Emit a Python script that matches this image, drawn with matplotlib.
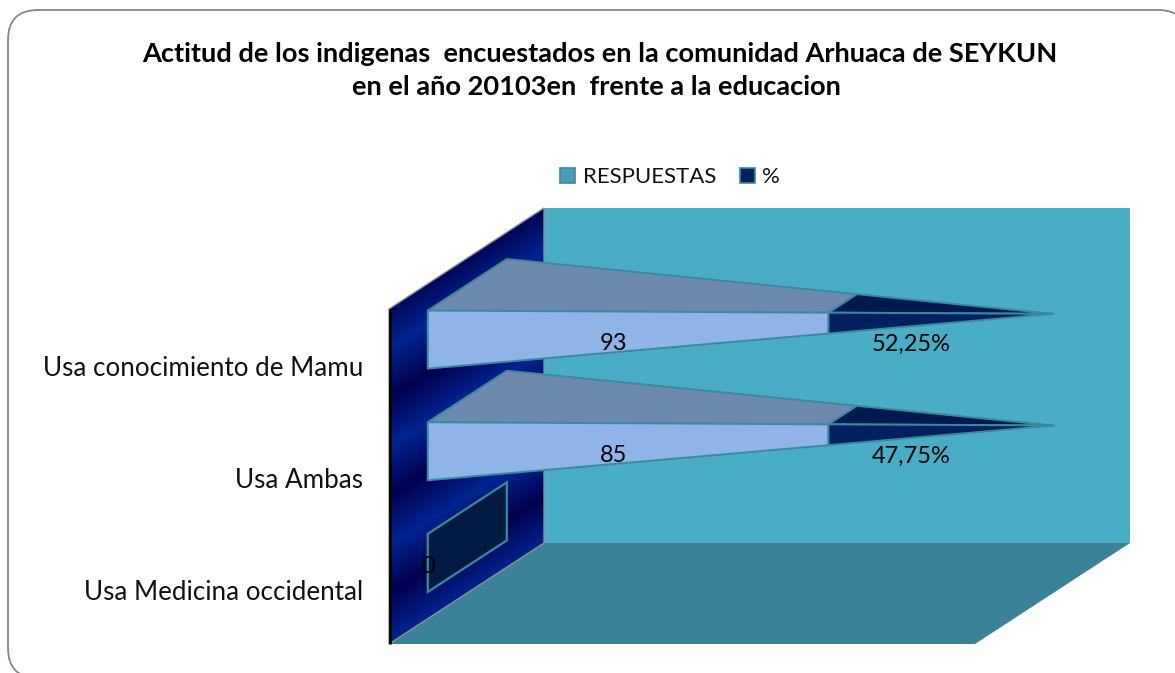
import numpy as np
import matplotlib
matplotlib.use("Agg")
import matplotlib.pyplot as plt
from matplotlib.colors import LinearSegmentedColormap
from matplotlib.patches import Polygon, FancyBboxPatch, Rectangle

TITLE_LINES = ["Actitud de los indigenas  encuestados en la comunidad Arhuaca de SEYKUN",
               "en el año 20103en  frente a la educacion"]
categories = ["Usa conocimiento de Mamu", "Usa Ambas", "Usa Medicina occidental"]
series_names = ["RESPUESTAS", "%"]
respuestas = [93, 85, 0]
porcentaje = [52.25, 47.75, 0]
resp_labels = ["93", "85", "0"]
pct_labels = ["52,25%", "47,75%", ""]

plt.rcParams["font.family"] = ["Lato", "DejaVu Sans"]
W, H = 1175, 673
fig = plt.figure(figsize=(W / 100, H / 100), dpi=100)
ax = fig.add_axes([0, 0, 1, 1])
ax.set_xlim(0, W)
ax.set_ylim(H, 0)
ax.axis("off")

# oblique projection of the 3-D plot box
X0, Y0 = 389, 309
BW, BH = 586, 335
DX, DY = 155, -101

def proj(x, depth, y):
    """x: share of axis 0-1, depth: 0-1, y: category units from the top."""
    return (X0 + x * BW + depth * DX, Y0 + y / 3 * BH + depth * DY)

card = FancyBboxPatch((8, 10), 1180, 668, boxstyle="round,pad=0,rounding_size=30",
                      fc="white", ec="#868686", lw=1.3, zorder=1)
ax.add_patch(card)

wall = Polygon([proj(0, 1, 0), proj(1, 1, 0), proj(1, 1, 3), proj(0, 1, 3)], fc="#4AADC6", ec="none", zorder=2)
floor = Polygon([proj(0, 0, 3), proj(1, 0, 3), proj(1, 1, 3), proj(0, 1, 3)], fc="#3A8297", ec="none", zorder=2)
ax.add_patch(wall)
ax.add_patch(floor)

side_pts = [proj(0, 0, 0), proj(0, 1, 0), proj(0, 1, 3), proj(0, 0, 3)]
side = Polygon(side_pts, fc="none", ec="none", zorder=3)
ax.add_patch(side)
cmap = LinearSegmentedColormap.from_list("w", ["#002490", "#00004F", "#002490"])
yy, xx = np.mgrid[200:650:1, 385:548:1]
phase = ((yy + 0.62 * (xx - 389) - 348) / 98.0) % 1.0
img = ax.imshow(phase, extent=(385, 548, 650, 200), cmap=cmap, vmin=0, vmax=1,
                aspect="auto", zorder=3, interpolation="bilinear")
img.set_clip_path(side)
ax.set_xlim(0, W)
ax.set_ylim(H, 0)
ax.add_patch(Polygon(side_pts, fc="none", ec="#8f8f8f", lw=1.0, zorder=3.1))
ax.plot([X0 + 1, X0 + 1], [Y0, Y0 + BH], color="black", lw=2.0, zorder=3.2, solid_capstyle="butt")

D0, D1, DC = 0.25, 0.76, 0.505
H0, H1 = 0.24, 0.76
EDGE = "#3B8A9C"

def pt(t, d, h, row):
    k = 1 - t
    return proj(t, DC + (d - DC) * k, row + 0.5 + (h - 0.5) * k)

def segment(t0, t1, row, top_c, front_c, z):
    top = [pt(t0, D0, H0, row), pt(t1, D0, H0, row), pt(t1, D1, H0, row), pt(t0, D1, H0, row)]
    front = [pt(t0, D0, H0, row), pt(t1, D0, H0, row), pt(t1, D0, H1, row), pt(t0, D0, H1, row)]
    ax.add_patch(Polygon(top, fc=top_c, ec=EDGE, lw=1.4, zorder=z, joinstyle="round"))
    ax.add_patch(Polygon(front, fc=front_c, ec=EDGE, lw=1.4, zorder=z + 0.1, joinstyle="round"))

for row, (a, b) in enumerate(zip(respuestas, porcentaje)):
    total = a + b
    z = 4 + row
    if total == 0:
        base = [pt(0, D0, H0, row), pt(0, D1, H0, row), pt(0, D1, H1, row), pt(0, D0, H1, row)]
        ax.add_patch(Polygon(base, fc="#021A42", ec=EDGE, lw=1.6, zorder=z))
        lx, ly = pt(0, D0, 0.5, row)
        ax.text(lx, ly + 4, resp_labels[row], ha="center", va="center", fontsize=17, color="black", zorder=9)
    else:
        share = a / total
        segment(share, 1, row, "#001A50", "#002060", z)
        segment(0, share, row, "#6E89AE", "#8FB4E8", z + 0.3)
        lx, ly = pt(share / 2, D0, 0.5, row)
        ax.text(lx - 14, ly + 12, resp_labels[row], ha="center", va="center", fontsize=17, color="black", zorder=9)
        lx, ly = pt((share + 1) / 2, D0, 0.5, row)
        ax.text(lx - 30, ly + 26, pct_labels[row], ha="center", va="center", fontsize=17, color="black", zorder=9)
    # category labels
    ax.text(X0 - 26, proj(0, 0, row + 0.5)[1] + 4, categories[row], ha="right", va="center",
            fontsize=18.7, color="#111111", zorder=9)

ax.text(600, 54, TITLE_LINES[0], ha="center", va="center", fontsize=19.6, fontweight="bold", color="black", zorder=9)
ax.text(596, 87, TITLE_LINES[1], ha="center", va="center", fontsize=19.6, fontweight="bold", color="black", zorder=9)

# legend
for x, name, c, tx in [(560, series_names[0], "#4A9DB5", 583), (740, series_names[1], "#002060", 762)]:
    ax.add_patch(Rectangle((x, 168), 15, 15, fc=c, ec="#3B8A9C", lw=1.2, zorder=9))
    ax.text(tx, 177, name, ha="left", va="center", fontsize=16, color="#111111", zorder=9)

fig.savefig("out.png", dpi=100)
